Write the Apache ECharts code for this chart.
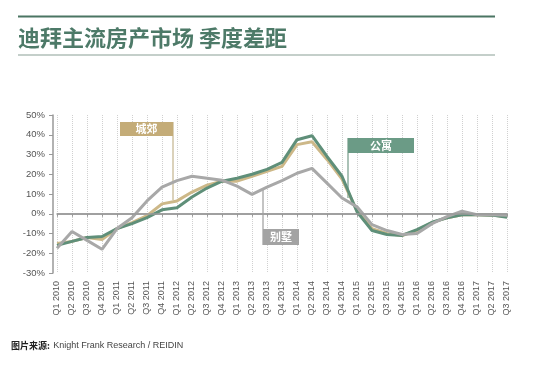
<!DOCTYPE html>
<html>
<head>
<meta charset="utf-8">
<style>html,body{margin:0;padding:0;background:#fff;}#c{width:550px;height:369px;}</style>
<script src="https://cdn.jsdelivr.net/npm/echarts@6/dist/echarts.min.js"></script>
</head>
<body>
<div id="c"></div>
<script>
const categories = ['Q1 2010','Q2 2010','Q3 2010','Q4 2010','Q1 2011','Q2 2011','Q3 2011','Q4 2011','Q1 2012','Q2 2012','Q3 2012','Q4 2012','Q1 2013','Q2 2013','Q3 2013','Q4 2013','Q1 2014','Q2 2014','Q3 2014','Q4 2014','Q1 2015','Q2 2015','Q3 2015','Q4 2015','Q1 2016','Q2 2016','Q3 2016','Q4 2016','Q1 2017','Q2 2017','Q3 2017'];
const apartment = [-16,-14,-12,-11.5,-7.5,-5,-2,2,3,8.5,13,16.5,18,20,22.5,26,37.5,39.5,29,19,1,-8.5,-10.5,-11,-8,-4.3,-2,-0.5,-0.5,-0.7,-1.8];
const suburb = [-15,-14,-12,-13,-7.5,-4.5,-1,5,6.5,11,14.5,16.5,16.5,19,21.5,24,35,36.5,27.5,17.5,1.5,-7.5,-10,-11,-8.5,-4.5,-2,-0.5,-0.5,-0.7,-1.5];
const villa = [-17.5,-9,-13.5,-18,-7.5,-2,6.5,13.5,16.8,19,18,17,14,9.8,13.5,16.8,20.5,23,15.5,8,3.5,-5.5,-8.5,-10.5,-10,-5,-1.5,1.3,-0.5,-0.5,-0.8];
const yTicks = [-30,-20,-10,0,10,20,30,40,50];

const chart = echarts.init(document.getElementById('c'), null, {renderer:'canvas'});
const cGreen = '#5f8f79', cTan = '#cdb888', cGray = '#a8a8a8';
const lineSeries = (name, data, color, z) => ({
  name, type:'line', data, symbol:'none', smooth:false, z,
  lineStyle:{color, width:3}, itemStyle:{color}
});
const sGray = lineSeries('别墅', villa, cGray, 4);
const sTan = lineSeries('城郊', suburb, cTan, 2);
const sGreen = lineSeries('公寓', apartment, cGreen, 3);
sTan.markLine = {silent:true, symbol:'none', label:{show:false}, lineStyle:{color:'#9a9a9a', width:1.5, type:'solid'}, data:[{yAxis:0}]};

chart.setOption({
  animation:false,
  backgroundColor:'#fff',
  grid:{left:57, right:43, top:115, bottom:96},
  xAxis:{
    type:'category', data:categories, boundaryGap:false,
    axisLine:{show:true, lineStyle:{color:'#999', width:1.5}},
    axisTick:{show:true, length:3, lineStyle:{color:'#999'}},
    axisLabel:{rotate:90, interval:0, fontSize:9, color:'#555', margin:8, fontFamily:'Liberation Sans'},
    splitLine:{show:true, lineStyle:{color:'#d0d0d0', type:'dotted', width:1}}
  },
  yAxis:{
    type:'value', min:yTicks[0], max:yTicks[yTicks.length-1], interval:10, offset:4,
    axisLine:{show:true, lineStyle:{color:'#999', width:1.5}},
    axisTick:{show:true, length:4, lineStyle:{color:'#999'}},
    axisLabel:{formatter:'{value}%', fontSize:9.5, color:'#555', margin:8, fontFamily:'Liberation Sans'},
    splitLine:{show:false}
  },
  series:[sTan, sGreen, sGray],
  graphic:[
    {type:'rect', shape:{x:18, y:15.5, width:477, height:2}, style:{fill:'#4b7563'}},
    {type:'text', left:18, top:27, style:{text:'迪拜主流房产市场 季度差距', fill:'#4d7a68', font:'bold 22px "Noto Sans CJK SC"'}},
    {type:'rect', shape:{x:18, y:54.5, width:477, height:1}, style:{fill:'#8aa096'}},
    // 城郊 label
    {type:'line', shape:{x1:173, y1:122, x2:173, y2:200}, style:{stroke:'#cfc3a4', lineWidth:1.5}, z:1},
    {type:'rect', shape:{x:120, y:122, width:53, height:14}, style:{fill:'#c4ac78'}, z:10},
    {type:'text', x:146.5, y:129, style:{text:'城郊', fill:'#fff', font:'bold 11px "Noto Sans CJK SC"', align:'center', verticalAlign:'middle'}, z:11},
    // 公寓 label
    {type:'line', shape:{x1:348, y1:138, x2:348, y2:198}, style:{stroke:'#8fae9f', lineWidth:1.5}, z:1},
    {type:'rect', shape:{x:348, y:138, width:66, height:15}, style:{fill:'#6b9b86'}, z:10},
    {type:'text', x:381, y:145.5, style:{text:'公寓', fill:'#fff', font:'bold 11px "Noto Sans CJK SC"', align:'center', verticalAlign:'middle'}, z:11},
    // 别墅 label
    {type:'line', shape:{x1:263, y1:188, x2:263, y2:245}, style:{stroke:'#b0b0b0', lineWidth:1.5}, z:1},
    {type:'rect', shape:{x:263, y:229, width:36, height:16}, style:{fill:'#a3a3a3'}, z:10},
    {type:'text', x:281, y:237, style:{text:'别墅', fill:'#fff', font:'bold 11px "Noto Sans CJK SC"', align:'center', verticalAlign:'middle'}, z:11},
    // footer
    {type:'text', left:11, top:340, style:{
      text:'{b|图片来源:} {n|Knight Frank Research / REIDIN}',
      rich:{b:{font:'bold 9px "Noto Sans CJK SC"', fill:'#222'}, n:{font:'9px "Liberation Sans"', fill:'#444'}}
    }}
  ]
});
</script>
</body>
</html>
